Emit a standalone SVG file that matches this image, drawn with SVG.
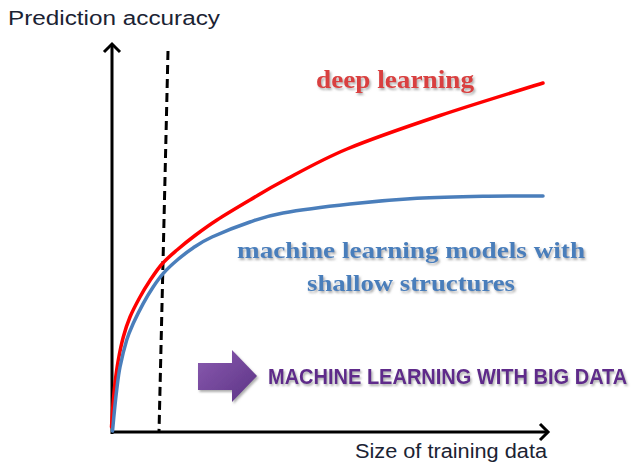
<svg xmlns="http://www.w3.org/2000/svg" width="637" height="465" viewBox="0 0 637 465">
  <style>
    .axis { stroke: #000; stroke-width: 3; fill: none; }
    .label { font-family: "Liberation Sans", Arial, sans-serif; font-size: 20px; fill: #1b2333; }
    .serif-bold { font-family: "Liberation Serif", "Times New Roman", serif; font-weight: bold; }
    .curve { fill: none; stroke-width: 3.5; stroke-linecap: round; stroke-linejoin: round; }
  </style>
  <defs>
    <marker id="chevron" viewBox="0 0 20 20" refX="16" refY="10" markerWidth="20" markerHeight="20" markerUnits="userSpaceOnUse" orient="auto">
      <polyline points="8,2 16,10 8,18" fill="none" stroke="#000" stroke-width="3"/>
    </marker>
    <filter id="softShadow" x="-10%" y="-30%" width="130%" height="180%">
      <feDropShadow dx="1.5" dy="2" stdDeviation="1.2" flood-color="#777" flood-opacity="0.6"/>
    </filter>
    <linearGradient id="purpleFill" x1="0" y1="0" x2="1" y2="1">
      <stop offset="0" stop-color="#8a5bb0"/>
      <stop offset="1" stop-color="#5c3385"/>
    </linearGradient>
  </defs>

  <!-- axes -->
  <g id="axes">
    <line class="axis" x1="112" y1="434" x2="112" y2="44" marker-end="url(#chevron)"/>
    <line class="axis" x1="111" y1="432" x2="548" y2="432" marker-end="url(#chevron)"/>
    <text class="label" x="8" y="25" textLength="212" lengthAdjust="spacingAndGlyphs">Prediction accuracy</text>
    <text class="label" x="355" y="458" textLength="192" lengthAdjust="spacingAndGlyphs">Size of training data</text>
  </g>

  <!-- threshold marker -->
  <g id="threshold">
    <line x1="168" y1="51" x2="159" y2="432" stroke="#000" stroke-width="3" stroke-dasharray="9 5"/>
  </g>

  <!-- performance curves (Catmull-Rom through sampled points) -->
  <g id="connectors">
    <path id="curve-deep" class="curve" stroke="#ff0000" d="M111.5,427 C111.75,423.3 112.42,412.33 113,405 C113.58,397.67 114.12,390.5 115,383 C115.88,375.5 116.92,367.67 118.3,360 C119.68,352.33 121.35,344.17 123.3,337 C125.25,329.83 127.22,323.67 130,317 C132.78,310.33 136.67,303.08 140,297 C143.33,290.92 146.33,286 150,280.5 C153.67,275 157.5,269.08 162,264 C166.5,258.92 171.5,254.75 177,250 C182.5,245.25 188.33,240.5 195,235.5 C201.67,230.5 207.83,225.92 217,220 C226.17,214.08 239,206.5 250,200 C261,193.5 266.83,189.5 283,181 C299.17,172.5 320.83,159.92 347,149 C373.17,138.08 407.33,126.5 440,115.5 C472.67,104.5 525.83,88.42 543,83"/>
    <path id="curve-shallow" class="curve" stroke="#4a7ebb" d="M112.5,431 C112.83,427.5 113.8,416.83 114.5,410 C115.2,403.17 115.78,397.17 116.7,390 C117.62,382.83 118.33,375.33 120,367 C121.67,358.67 124.48,347.28 126.7,340 C128.92,332.72 130.53,329.42 133.3,323.3 C136.07,317.18 139.97,309.4 143.3,303.3 C146.63,297.2 149.97,291.7 153.3,286.7 C156.63,281.7 159.4,277.67 163.3,273.3 C167.2,268.93 171.75,264.72 176.7,260.5 C181.65,256.28 187.12,251.92 193,248 C198.88,244.08 202.5,241.33 212,237 C221.5,232.67 238.17,226 250,222 C261.83,218 266.33,216 283,213 C299.67,210 327.67,206.45 350,204 C372.33,201.55 394.83,199.6 417,198.3 C439.17,197 462,196.58 483,196.2 C504,195.82 533,196.03 543,196"/>
  </g>

  <g id="label-deep" filter="url(#softShadow)">
    <text class="serif-bold" x="316" y="88" font-size="26" fill="#d9403f" textLength="158" lengthAdjust="spacingAndGlyphs">deep learning</text>
  </g>

  <g id="label-shallow" filter="url(#softShadow)">
    <text class="serif-bold" x="237" y="258" font-size="24" fill="#4a7ebb" textLength="348" lengthAdjust="spacingAndGlyphs">machine learning models with</text>
    <text class="serif-bold" x="307" y="291" font-size="24" fill="#4a7ebb" textLength="208" lengthAdjust="spacingAndGlyphs">shallow structures</text>
  </g>

  <g id="big-data">
    <path d="M198,363 H232 V350 L257,376 L232,402 V390 H198 Z" fill="url(#purpleFill)" filter="url(#softShadow)"/>
    <text transform="translate(268,384) scale(0.91,1)" x="0" y="0" font-family="Liberation Sans, Arial, sans-serif" font-weight="bold" font-size="22" fill="#5e2a8a" filter="url(#softShadow)">MACHINE LEARNING WITH BIG DATA</text>
  </g>
</svg>
